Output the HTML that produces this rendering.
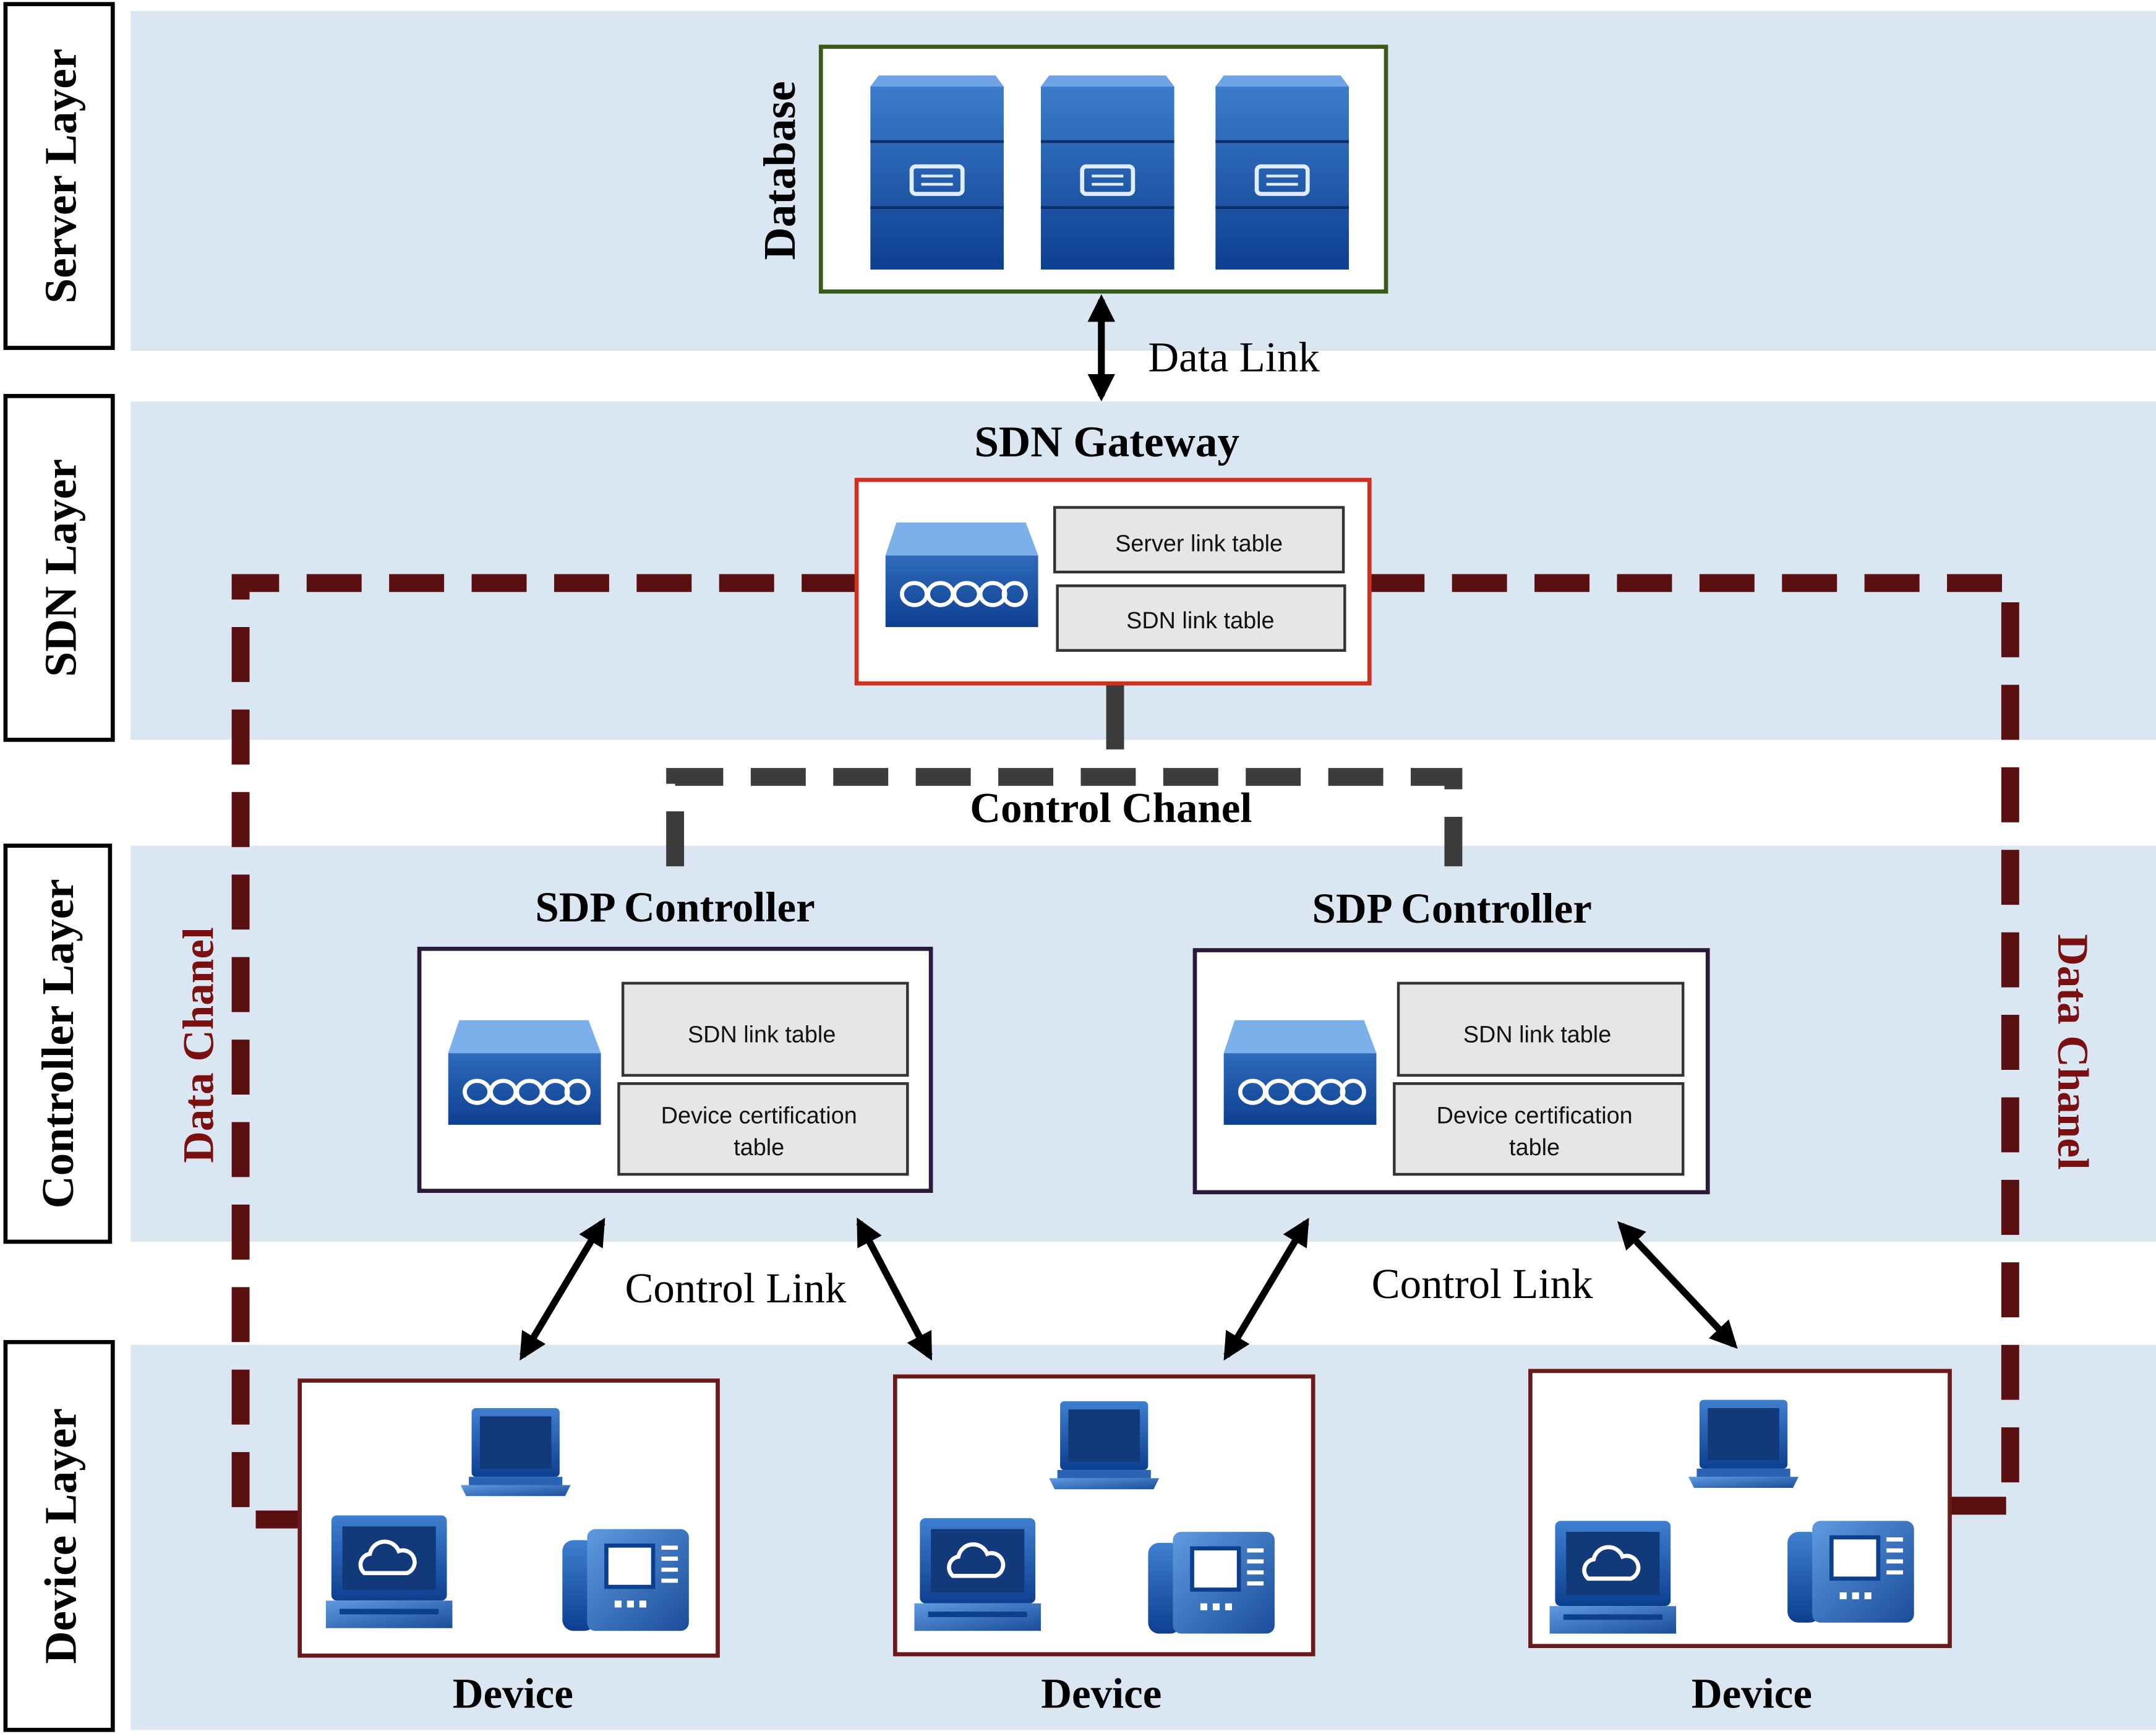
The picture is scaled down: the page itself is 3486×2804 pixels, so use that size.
<!DOCTYPE html>
<html><head><meta charset="utf-8"><style>
html,body{margin:0;padding:0;background:#fff;}
svg{display:block;}
text{font-family:"Liberation Serif",serif;}
.b{font-weight:bold;}
.t{font-family:"Liberation Sans",sans-serif;font-size:17px;fill:#111;}
</style></head><body>
<svg width="3486" height="2804" viewBox="0 0 1568 1261" preserveAspectRatio="none" xmlns="http://www.w3.org/2000/svg">
<defs>
<linearGradient id="bl" x1="0" y1="0" x2="0" y2="1"><stop offset="0" stop-color="#3f7fd0"/><stop offset="1" stop-color="#0d3f8f"/></linearGradient>
<linearGradient id="bl2" x1="0" y1="0" x2="1" y2="1"><stop offset="0" stop-color="#5f9ae0"/><stop offset="1" stop-color="#1a4d9a"/></linearGradient>
<marker id="ah" viewBox="0 0 10 10" refX="8" refY="5" markerWidth="4" markerHeight="4" orient="auto-start-reverse"><path d="M0,0 L10,5 L0,10 z" fill="#000"/></marker>
<g id="srv">
<path d="M6,0 H91 L97,8 V141 H0 V8 Z" fill="url(#bl)"/>
<path d="M6,0 H91 L97,8 H0 Z" fill="#6fa4e4"/>
<line x1="0" y1="48" x2="97" y2="48" stroke="#0a2f6a" stroke-width="2"/>
<line x1="0" y1="96" x2="97" y2="96" stroke="#0a2f6a" stroke-width="2"/>
<rect x="30" y="66" width="37" height="20" rx="3" fill="none" stroke="#e0ecff" stroke-width="3"/>
<line x1="37" y1="73" x2="60" y2="73" stroke="#e0ecff" stroke-width="2"/>
<line x1="37" y1="79" x2="60" y2="79" stroke="#e0ecff" stroke-width="2"/>
</g>
<g id="rtr">
<path d="M8,0 H102 L111,24 V76 H0 V24 Z" fill="url(#bl)"/>
<path d="M8,0 H102 L111,24 H0 Z" fill="#7cb0ea"/>
<g fill="none" stroke="#fff" stroke-width="3">
<ellipse cx="21" cy="52" rx="9" ry="8"/><ellipse cx="40" cy="52" rx="9" ry="8"/><ellipse cx="59" cy="52" rx="9" ry="8"/><ellipse cx="78" cy="52" rx="9" ry="8"/><ellipse cx="94" cy="52" rx="8" ry="8"/>
</g>
</g>
<g id="lap">
<rect x="8" y="0" width="64" height="50" rx="3" fill="url(#bl)"/>
<rect x="14" y="6" width="52" height="38" fill="#123a7a"/>
<path d="M0,56 H80 L76,64 H4 Z" fill="url(#bl2)"/>
<rect x="6" y="50" width="68" height="6" fill="#2b63b4"/>
</g>
<g id="mon">
<rect x="4" y="0" width="84" height="62" rx="4" fill="url(#bl)"/>
<rect x="12" y="8" width="68" height="46" fill="#123a7a"/>
<path d="M28,42 a8,8 0 0 1 4,-14 a11,11 0 0 1 21,-2 a8,8 0 0 1 6,16 z" fill="none" stroke="#fff" stroke-width="3"/>
<rect x="0" y="62" width="92" height="20" fill="url(#bl2)"/>
<rect x="10" y="68" width="72" height="4" fill="#0d3f8f"/>
</g>
<g id="phn">
<rect x="0" y="8" width="24" height="66" rx="8" fill="url(#bl)"/>
<rect x="18" y="0" width="74" height="74" rx="6" fill="url(#bl2)"/>
<rect x="32" y="12" width="34" height="30" fill="#fff" stroke="#0d3f8f" stroke-width="3"/>
<g fill="#fff"><rect x="72" y="12" width="12" height="3"/><rect x="72" y="20" width="12" height="3"/><rect x="72" y="28" width="12" height="3"/><rect x="72" y="36" width="12" height="3"/>
<rect x="38" y="52" width="5" height="5"/><rect x="47" y="52" width="5" height="5"/><rect x="56" y="52" width="5" height="5"/></g>
</g>
</defs>

<!-- bands -->
<g fill="#dbe6f3">
<rect x="95" y="8" width="1473" height="247"/>
<rect x="95" y="292" width="1473" height="246"/>
<rect x="95" y="615" width="1473" height="288"/>
<rect x="95" y="978" width="1473" height="280"/>
</g>
<!-- layer labels -->
<g fill="#fff" stroke="#000" stroke-width="3">
<rect x="4" y="3" width="78" height="250"/>
<rect x="4" y="288" width="78" height="250"/>
<rect x="4" y="615" width="76" height="288"/>
<rect x="4" y="976" width="78" height="282"/>
</g>
<g class="b" font-size="33" text-anchor="middle" fill="#000">
<text transform="translate(55,128) rotate(-90)">Server Layer</text>
<text transform="translate(55,413) rotate(-90)">SDN Layer</text>
<text transform="translate(53,759) rotate(-90)">Controller Layer</text>
<text transform="translate(55,1117) rotate(-90)">Device Layer</text>
</g>

<!-- data channel -->
<g fill="none" stroke="#5a1010" stroke-width="13" stroke-dasharray="40,20">
<path d="M623,424 H175 V1105 H218"/>
<path d="M996,424 H1462 V1095 H1418"/>
</g>
<!-- control channel -->
<line x1="811" y1="497" x2="811" y2="545" stroke="#3c3c3c" stroke-width="13"/>
<path d="M491,630 V565 H1057 V630" fill="none" stroke="#3c3c3c" stroke-width="13" stroke-dasharray="40,20"/>

<!-- database -->
<rect x="597" y="34" width="411" height="178" fill="#fff" stroke="#3a5a1a" stroke-width="3"/>
<text class="b" font-size="33" text-anchor="middle" transform="translate(578,124) rotate(-90)">Database</text>
<use href="#srv" x="633" y="55"/><use href="#srv" x="757" y="55"/><use href="#srv" x="884" y="55"/>
<line x1="801" y1="218" x2="801" y2="288" stroke="#000" stroke-width="5" marker-start="url(#ah)" marker-end="url(#ah)"/>
<text x="835" y="270" font-size="31">Data Link</text>

<!-- gateway -->
<text class="b" x="805" y="332" font-size="32" text-anchor="middle">SDN Gateway</text>
<rect x="623" y="349" width="373" height="148" fill="#fff" stroke="#d03020" stroke-width="3"/>
<use href="#rtr" x="644" y="380"/>
<rect x="767" y="369" width="210" height="47" fill="#e6e6e6" stroke="#333" stroke-width="2"/>
<rect x="769" y="426" width="209" height="47" fill="#e6e6e6" stroke="#333" stroke-width="2"/>
<text class="t" x="872" y="401" text-anchor="middle" font-size="19">Server link table</text>
<text class="t" x="873" y="457" text-anchor="middle">SDN link table</text>

<text class="b" x="808" y="598" font-size="31" text-anchor="middle">Control Chanel</text>
<text class="b" x="491" y="670" font-size="31" text-anchor="middle">SDP Controller</text>
<text class="b" x="1056" y="671" font-size="31" text-anchor="middle">SDP Controller</text>

<!-- controllers -->
<g>
<rect x="305" y="690" width="372" height="176" fill="#fff" stroke="#2a1a3a" stroke-width="3"/>
<use href="#rtr" x="326" y="742"/>
<rect x="453" y="715" width="207" height="67" fill="#e6e6e6" stroke="#333" stroke-width="2"/>
<rect x="450" y="788" width="210" height="66" fill="#e6e6e6" stroke="#333" stroke-width="2"/>
<text class="t" x="554" y="758" text-anchor="middle">SDN link table</text>
<text class="t" x="552" y="817" text-anchor="middle">Device certification</text>
<text class="t" x="552" y="840" text-anchor="middle">table</text>
</g>
<g>
<rect x="869" y="691" width="373" height="176" fill="#fff" stroke="#2a1a3a" stroke-width="3"/>
<use href="#rtr" x="890" y="742"/>
<rect x="1017" y="715" width="207" height="67" fill="#e6e6e6" stroke="#333" stroke-width="2"/>
<rect x="1014" y="788" width="210" height="66" fill="#e6e6e6" stroke="#333" stroke-width="2"/>
<text class="t" x="1118" y="758" text-anchor="middle">SDN link table</text>
<text class="t" x="1116" y="817" text-anchor="middle">Device certification</text>
<text class="t" x="1116" y="840" text-anchor="middle">table</text>
</g>

<!-- data chanel labels -->
<text class="b" font-size="32" fill="#7a1010" text-anchor="middle" transform="translate(155,760) rotate(-90)">Data Chanel</text>
<text class="b" font-size="32" fill="#7a1010" text-anchor="middle" transform="translate(1497,765) rotate(90)">Data Chanel</text>

<!-- control links -->
<g stroke="#000" stroke-width="5" marker-start="url(#ah)" marker-end="url(#ah)">
<line x1="380" y1="986" x2="438" y2="889"/>
<line x1="625" y1="889" x2="676" y2="986"/>
<line x1="892" y1="986" x2="950" y2="889"/>
<line x1="1179" y1="891" x2="1261" y2="978"/>
</g>
<text x="535" y="947" font-size="31" text-anchor="middle">Control Link</text>
<text x="1078" y="944" font-size="31" text-anchor="middle">Control Link</text>

<!-- devices -->
<g>
<rect x="218" y="1004" width="304" height="200" fill="#fff" stroke="#6a1a1a" stroke-width="3"/>
<use href="#lap" x="335" y="1024"/><use href="#mon" x="237" y="1102"/><use href="#phn" x="409" y="1112"/>
</g>
<g>
<rect x="651" y="1001" width="304" height="202" fill="#fff" stroke="#6a1a1a" stroke-width="3"/>
<use href="#lap" x="763" y="1019"/><use href="#mon" x="665" y="1104"/><use href="#phn" x="835" y="1114"/>
</g>
<g>
<rect x="1113" y="997" width="305" height="200" fill="#fff" stroke="#6a1a1a" stroke-width="3"/>
<use href="#lap" x="1228" y="1018"/><use href="#mon" x="1127" y="1106"/><use href="#phn" x="1300" y="1106"/>
</g>
<g class="b" font-size="31" text-anchor="middle">
<text x="373" y="1242">Device</text>
<text x="801" y="1242">Device</text>
<text x="1274" y="1242">Device</text>
</g>
</svg>
</body></html>
